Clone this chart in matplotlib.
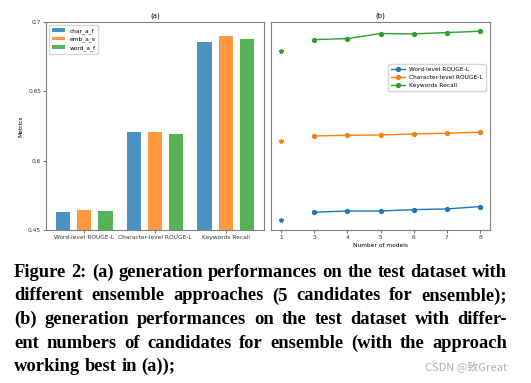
import numpy as np
import matplotlib
matplotlib.use('Agg')
from matplotlib import pyplot as plt

# (a) bar chart data
metrics = ['Word-level ROUGE-L', 'Character-level ROUGE-L', 'Keywords Recall']
approaches = ['char_a_f', 'emb_a_s', 'word_a_f']
char_a_f = [0.4633, 0.6205, 0.6859]
emb_a_s = [0.4645, 0.6210, 0.6900]
word_a_f = [0.4640, 0.6195, 0.6880]

# (b) number of candidates
n_models = [1, 3, 4, 5, 6, 7, 8]
word_rouge = [0.4572, 0.4628, 0.4637, 0.4637, 0.4647, 0.4652, 0.4669]
char_rouge = [0.6140, 0.6178, 0.6183, 0.6185, 0.6193, 0.6198, 0.6205]
kw_recall = [0.6794, 0.6873, 0.6880, 0.6917, 0.6914, 0.6924, 0.6933]

# word-level values sit in a squeezed band at the bottom of the axis
# (bottom tick is labelled 0.45 but drawn one step below 0.6)
word_shift = 0.1

caption = [
    "Figure 2: (a) generation performances on the test dataset with",
    "different ensemble approaches (5 candidates for ensemble);",
    "(b) generation performances on the test dataset with differ-",
    "ent numbers of candidates for ensemble (with the approach",
    "working best in (a));",
]

colors = ['#1f77b4', '#ff7f0e', '#2ca02c']
spine_col = '#808080'
tick_fs = 4.2

fig = plt.figure(figsize=(5.31, 3.83), dpi=100)
W, H = 531, 383
ax1 = fig.add_axes([46 / W, 1 - 230 / H, 218 / W, 208 / H])
ax2 = fig.add_axes([271 / W, 1 - 230 / H, 219 / W, 208 / H])

# ---- panel (a)
x = np.arange(len(metrics))
vals = [char_a_f, emb_a_s, word_a_f]
for k, (name, v) in enumerate(zip(approaches, vals)):
    v = np.array(v, dtype=float)
    v[0] += word_shift
    ax1.bar(x + (k - 1) * 0.3, v, width=0.2, color=colors[k], alpha=0.8, label=name)
ax1.set_xticks(x)
ax1.set_xticklabels(metrics, fontsize=tick_fs)
ax1.set_ylim(0.55, 0.7)
ax1.set_yticks([0.55, 0.6, 0.65, 0.7])
ax1.set_yticklabels(['0.45', '0.6', '0.65', '0.7'], fontsize=tick_fs)
ax1.set_ylabel('Metrics', fontsize=tick_fs, labelpad=3)
ax1.set_title('(a)', fontsize=5, pad=3)
ax1.legend(loc='upper left', fontsize=tick_fs, handlelength=2.2, handleheight=0.6,
           borderpad=0.5, labelspacing=0.5)

# ---- panel (b)
pos = [2, 3, 4, 5, 6, 7, 8]  # first entry drawn one slot left of 3
labels_b = ['Word-level ROUGE-L', 'Character-level ROUGE-L', 'Keywords Recall']
for k, (lab, v) in enumerate(zip(labels_b, [word_rouge, char_rouge, kw_recall])):
    v = np.array(v, dtype=float)
    if k == 0:
        v = v + word_shift
    ax2.plot(pos[1:], v[1:], marker='o', markersize=2.8, linewidth=1.0,
             color=colors[k], label=lab)
    ax2.plot(pos[0], v[0], marker='*', markersize=3.2, linestyle='none', color=colors[k])
ax2.set_xticks(pos)
ax2.set_xticklabels([str(n) for n in n_models], fontsize=tick_fs)
ax2.set_ylim(0.55, 0.7)
ax2.set_yticks([])
ax2.set_xlabel('Number of models', fontsize=tick_fs, labelpad=2)
ax2.set_title('(b)', fontsize=5, pad=3)
ax2.legend(loc='upper right', bbox_to_anchor=(0.995, 0.81), fontsize=tick_fs,
           handlelength=2.4, borderpad=0.5, labelspacing=0.5)

for ax in (ax1, ax2):
    for s in ax.spines.values():
        s.set_color(spine_col)
        s.set_linewidth(0.8)
    ax.tick_params(length=2, width=0.5, pad=1.5, colors='#333333')

# ---- caption, justified word by word
left, right = 14, 507
base0, step = 277, 23.5
fig.canvas.draw()
renderer = fig.canvas.get_renderer()

def width_of(s, size):
    t = fig.text(0, 0, s, family='Liberation Serif', weight='bold', fontsize=size)
    w = t.get_window_extent(renderer).width
    t.remove()
    return w

# pick the size at which the widest justified line fills the column
widest = max(width_of(l, 10) for l in caption[:-1])
cap_size = 10 * (right - left) / widest * 0.995
cap_font = dict(family='Liberation Serif', weight='bold', fontsize=cap_size)
space_w = width_of('a a', cap_size) - 2 * width_of('a', cap_size)

for i, line in enumerate(caption):
    y = 1 - (base0 + i * step) / H
    words = line.split(' ')
    texts = [fig.text(0, y, w, va='baseline', ha='left', **cap_font) for w in words]
    widths = [t.get_window_extent(renderer).width for t in texts]
    if i < len(caption) - 1:
        gap = (right - left - sum(widths)) / (len(words) - 1)
    else:
        gap = space_w
    xx = left
    for t, w in zip(texts, widths):
        t.set_x(xx / W)
        xx += w + gap

fig.text(507 / W, 1 - 371 / H, 'CSDN @致Great', ha='right', va='baseline',
         fontsize=8, color='#b0b0b0', family=['Noto Sans CJK SC', 'DejaVu Sans'])

fig.savefig('out.png', dpi=100)
